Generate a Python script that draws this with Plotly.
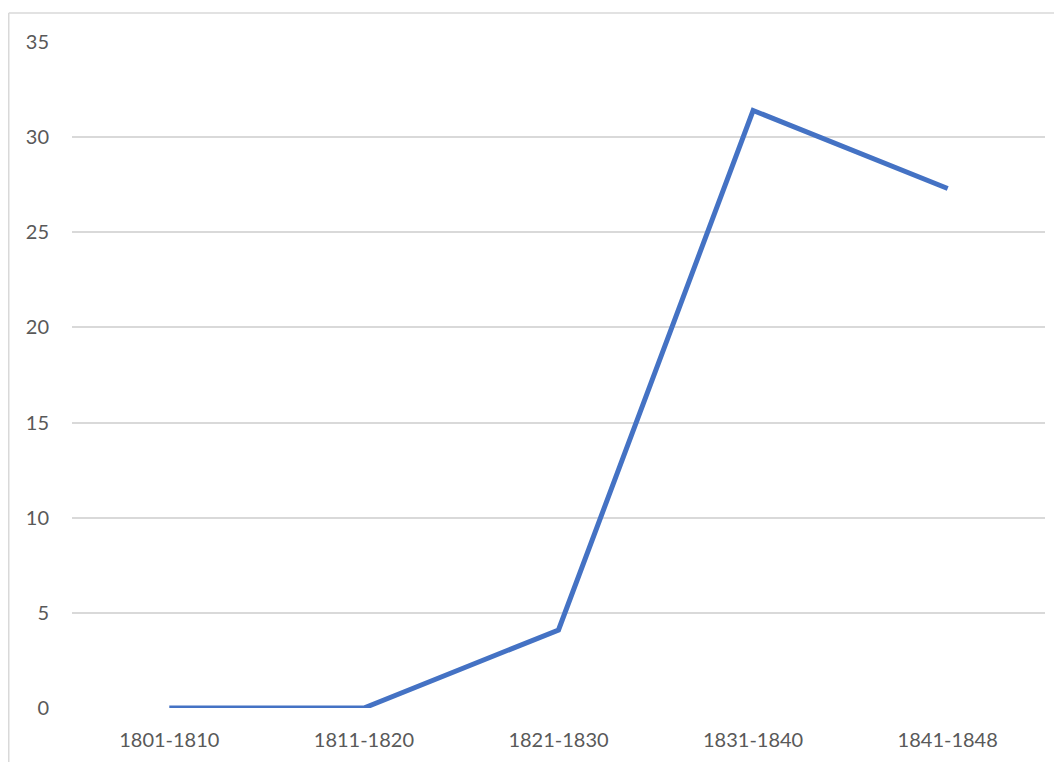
import plotly.graph_objects as go

periods = ["1801-1810", "1811-1820", "1821-1830", "1831-1840", "1841-1848"]
values = [0, 0, 4.1, 31.4, 27.3]
y_ticks = [0, 5, 10, 15, 20, 25, 30, 35]

# page body has an 8px margin, so the figure is sized to fit inside it
ML, MT, PW, PH = 64, 34, 973, 666

fig = go.Figure()
fig.add_trace(go.Scatter(
    x=periods,
    y=values,
    mode="lines",
    line=dict(color="#4472C4", width=5),
    showlegend=False,
))

fig.update_layout(
    width=1054,
    height=754,
    paper_bgcolor="white",
    plot_bgcolor="white",
    font=dict(family="Lato, Open Sans, sans-serif", size=20, color="#595959"),
    margin=dict(l=ML, r=1054 - ML - PW, t=MT, b=754 - MT - PH),
    xaxis=dict(
        type="category",
        range=[-0.5, 4.5],
        showgrid=False,
        showline=False,
        zeroline=False,
        ticks="",
        ticklabelstandoff=18,
    ),
    yaxis=dict(
        range=[0, 35],
        tickvals=y_ticks,
        showgrid=True,
        gridcolor="#D9D9D9",
        gridwidth=1.5,
        zeroline=False,
        showline=False,
        ticks="",
        ticklabelstandoff=22,
    ),
)

# chart border (cropped on the right and bottom in the original)
top = (MT + PH - 5) / PH
left = -(ML - 0.75) / PW
fig.add_shape(type="line", xref="paper", yref="paper",
              x0=left, x1=1.1, y0=top, y1=top,
              line=dict(color="#D9D9D9", width=1.5))
fig.add_shape(type="line", xref="paper", yref="paper",
              x0=left, x1=left, y0=-0.2, y1=top,
              line=dict(color="#D9D9D9", width=1.5))

fig.write_html("out.html")
